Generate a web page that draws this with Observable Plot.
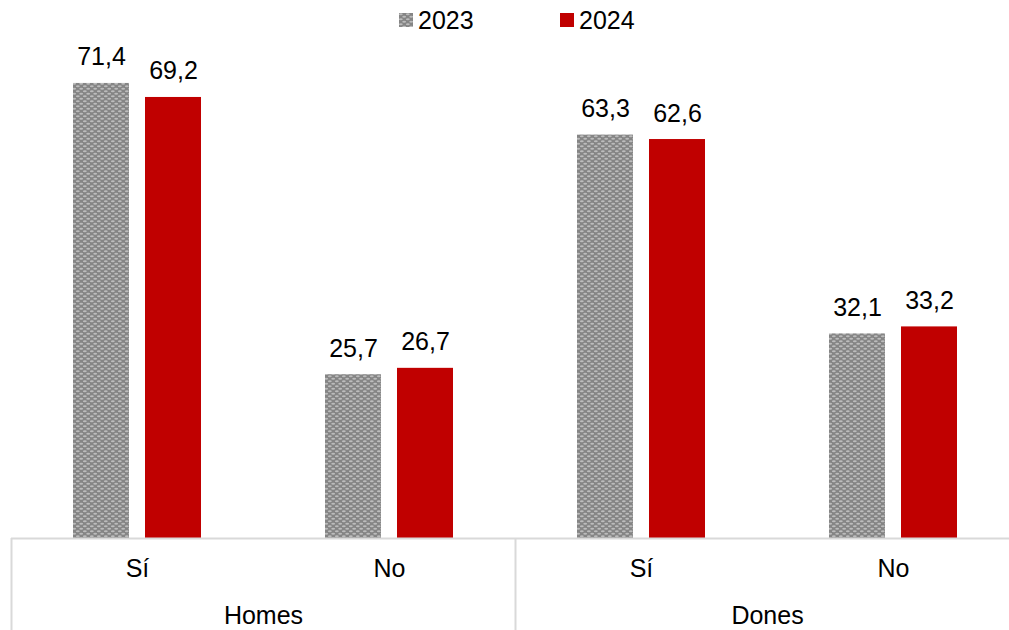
<!DOCTYPE html>
<html>
<head>
<meta charset="utf-8">
<script src="https://cdn.jsdelivr.net/npm/d3@7"></script>
<script src="https://cdn.jsdelivr.net/npm/@observablehq/plot@0.6"></script>
<style>
  body { margin: 0; background: #fff; font-family: "Liberation Sans", Arial, sans-serif; }
  #wrap { width: 1009px; height: 630px; overflow: hidden; position: relative; }
  #legend { height: 40px; position: relative; font-size: 25px; color: #000; }
  .item { position: absolute; top: 6px; display: flex; align-items: center; height: 28px; }
  .sw { width: 14px; height: 14px; margin-right: 5px; display: block; }
</style>
</head>
<body>
<div id="wrap">
  <div id="legend">
    <div class="item" style="left:399px">
      <svg class="sw" width="14" height="14"><defs>
        <pattern id="patLeg" width="7" height="5" patternUnits="userSpaceOnUse">
          <rect width="7" height="5" fill="#858585"></rect>
          <ellipse cx="1.75" cy="1.25" rx="2" ry="0.9" fill="#bcbcbc"></ellipse>
          <ellipse cx="5.25" cy="3.75" rx="2" ry="0.9" fill="#bcbcbc"></ellipse>
        </pattern></defs>
        <rect width="14" height="14" fill="url(#patLeg)"></rect></svg>
      <span>2023</span>
    </div>
    <div class="item" style="left:560px">
      <span class="sw" style="background:#c00000"></span>
      <span>2024</span>
    </div>
  </div>
  <div id="chart"></div>
</div>
<script>
const groups = ["Homes", "Homes", "Dones", "Dones"];
const categories = ["Sí", "No", "Sí", "No"];
const years = ["2023", "2024"];
const values2023 = [71.4, 25.7, 63.3, 32.1];
const values2024 = [69.2, 26.7, 62.6, 33.2];
const groupNames = ["Homes", "Dones"];

const keys = groups.map((g, i) => g + "|" + categories[i]);
const d2023 = keys.map((k, i) => ({key: k, cat: categories[i], value: values2023[i]}));
const d2024 = keys.map((k, i) => ({key: k, cat: categories[i], value: values2024[i]}));
const groupData = groupNames.map(g => ({key: keys[groups.indexOf(g)], name: g}));
const separators = groupNames.map(g => keys[groups.indexOf(g)]);
const fmt = v => v.toFixed(1).replace(".", ",");

const lineColor = "#d9d9d9";

const svg = Plot.plot({
  width: 1009,
  height: 590,
  marginTop: 20,
  marginBottom: 92,
  marginLeft: 11,
  marginRight: 0,
  style: {fontFamily: "'Liberation Sans', Arial, sans-serif", fontSize: "25px", color: "#000", background: "#fff", overflow: "visible"},
  x: {domain: keys, range: [11, 1019], paddingInner: 0.7778, paddingOuter: 0.3889, axis: null},
  y: {domain: [0, 75], axis: null},
  marks: [
    Plot.barY(d2023, {x: "key", y: "value", dx: -36, fill: "url(#pat2023)"}),
    Plot.barY(d2024, {x: "key", y: "value", dx: 36, fill: "#c00000"}),
    Plot.text(d2023, {x: "key", y: "value", text: d => fmt(d.value), dx: -36, dy: -26, fill: "#000"}),
    Plot.text(d2024, {x: "key", y: "value", text: d => fmt(d.value), dx: 36, dy: -26, fill: "#000"}),
    Plot.ruleY([0], {stroke: lineColor, strokeWidth: 2}),
    Plot.axisX(separators, {tickSize: 92, dx: -126, stroke: lineColor, strokeWidth: 2, fill: "none", label: null}),
    Plot.text(d2023, {x: "key", y: 0, text: "cat", dy: 30, fill: "#000"}),
    Plot.text(groupData, {x: "key", y: 0, text: "name", dx: 126, dy: 77, fill: "#000"})
  ]
});

d3.select(svg).insert("defs", ":first-child").html(
  '<pattern id="pat2023" width="7" height="5" patternUnits="userSpaceOnUse">' +
  '<rect width="7" height="5" fill="#858585"></rect>' +
  '<ellipse cx="1.75" cy="1.25" rx="2" ry="0.9" fill="#bcbcbc"></ellipse>' +
  '<ellipse cx="5.25" cy="3.75" rx="2" ry="0.9" fill="#bcbcbc"></ellipse>' +
  '</pattern>'
);

document.getElementById("chart").appendChild(svg);
</script>
</body>
</html>
